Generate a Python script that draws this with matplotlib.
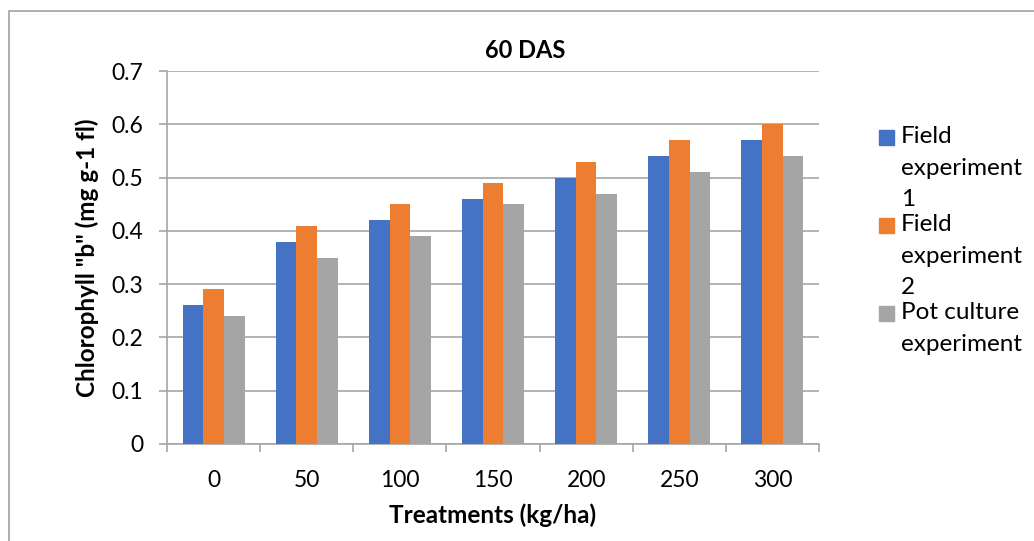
import matplotlib
matplotlib.use('agg')
import matplotlib.pyplot as plt
from matplotlib.patches import Rectangle
import numpy as np

plt.rcParams['font.family'] = ['Lato', 'DejaVu Sans']

# data
treatments = ['0', '50', '100', '150', '200', '250', '300']
field_exp1 = [0.26, 0.38, 0.42, 0.46, 0.50, 0.54, 0.57]
field_exp2 = [0.29, 0.41, 0.45, 0.49, 0.53, 0.57, 0.60]
pot_culture = [0.24, 0.35, 0.39, 0.45, 0.47, 0.51, 0.54]
series_names = ['Field\nexperiment\n1', 'Field\nexperiment\n2', 'Pot culture\nexperiment']
colors = ['#4472C4', '#ED7D31', '#A5A5A5']

W, H = 1034, 541
fig = plt.figure(figsize=(W / 100, H / 100), dpi=100)
ax = fig.add_axes([167 / W, 1 - 444 / H, (819 - 167) / W, (444 - 71) / H])

# outer chart frame
fig.patches.append(Rectangle((9 / W, -0.1), 1.2, 1.1 - 11.5 / H, transform=fig.transFigure,
                             fill=False, edgecolor='#a0a0a0', linewidth=1.2, zorder=0))

x = np.arange(len(treatments))
bw = 0.222
for i, vals in enumerate([field_exp1, field_exp2, pot_culture]):
    ax.bar(x + (i - 1) * bw, vals, width=bw, color=colors[i], zorder=3)

ax.set_xlim(-0.5, len(treatments) - 0.5)
ax.set_ylim(0, 0.7)
ax.set_yticks(np.arange(0, 0.71, 0.1))
ax.set_yticklabels(['0', '0.1', '0.2', '0.3', '0.4', '0.5', '0.6', '0.7'])
ax.set_xticks(x)
ax.set_xticklabels(treatments)
ax.set_xticks(np.arange(-0.5, len(treatments)), minor=True)

grid_c = '#a6a6a6'
ax.grid(axis='y', color=grid_c, linewidth=1.2, zorder=0)
for s in ['top', 'right']:
    ax.spines[s].set_visible(False)
for s in ['left', 'bottom']:
    ax.spines[s].set_color(grid_c)
    ax.spines[s].set_linewidth(1.2)

ax.tick_params(axis='x', which='major', length=0, pad=19, labelsize=16.5)
ax.tick_params(axis='x', which='minor', length=6, color=grid_c, width=1.2)
ax.tick_params(axis='y', length=6, color=grid_c, width=1.2, pad=11, labelsize=16.5)

ax.set_xlabel('Treatments (kg/ha)', fontsize=17.5, fontweight='bold', labelpad=9)
ax.set_ylabel('Chlorophyll "b" (mg g-1 fl)', fontsize=17.5, fontweight='bold', labelpad=9)
fig.text(525 / W, 1 - 50 / H, '60 DAS', ha='center', va='center', fontsize=17, fontweight='bold')

# legend drawn manually to mimic wrapped Excel entries
for i, name in enumerate(series_names):
    top = 130 + i * 88
    fig.patches.append(Rectangle((879 / W, 1 - (top + 15) / H), 15 / W, 15 / H,
                                 transform=fig.transFigure, color=colors[i]))
    fig.text(901 / W, 1 - (top - 4) / H, name, ha='left', va='top', fontsize=17.5,
             linespacing=1.62)

fig.savefig('out.png', dpi=100)
